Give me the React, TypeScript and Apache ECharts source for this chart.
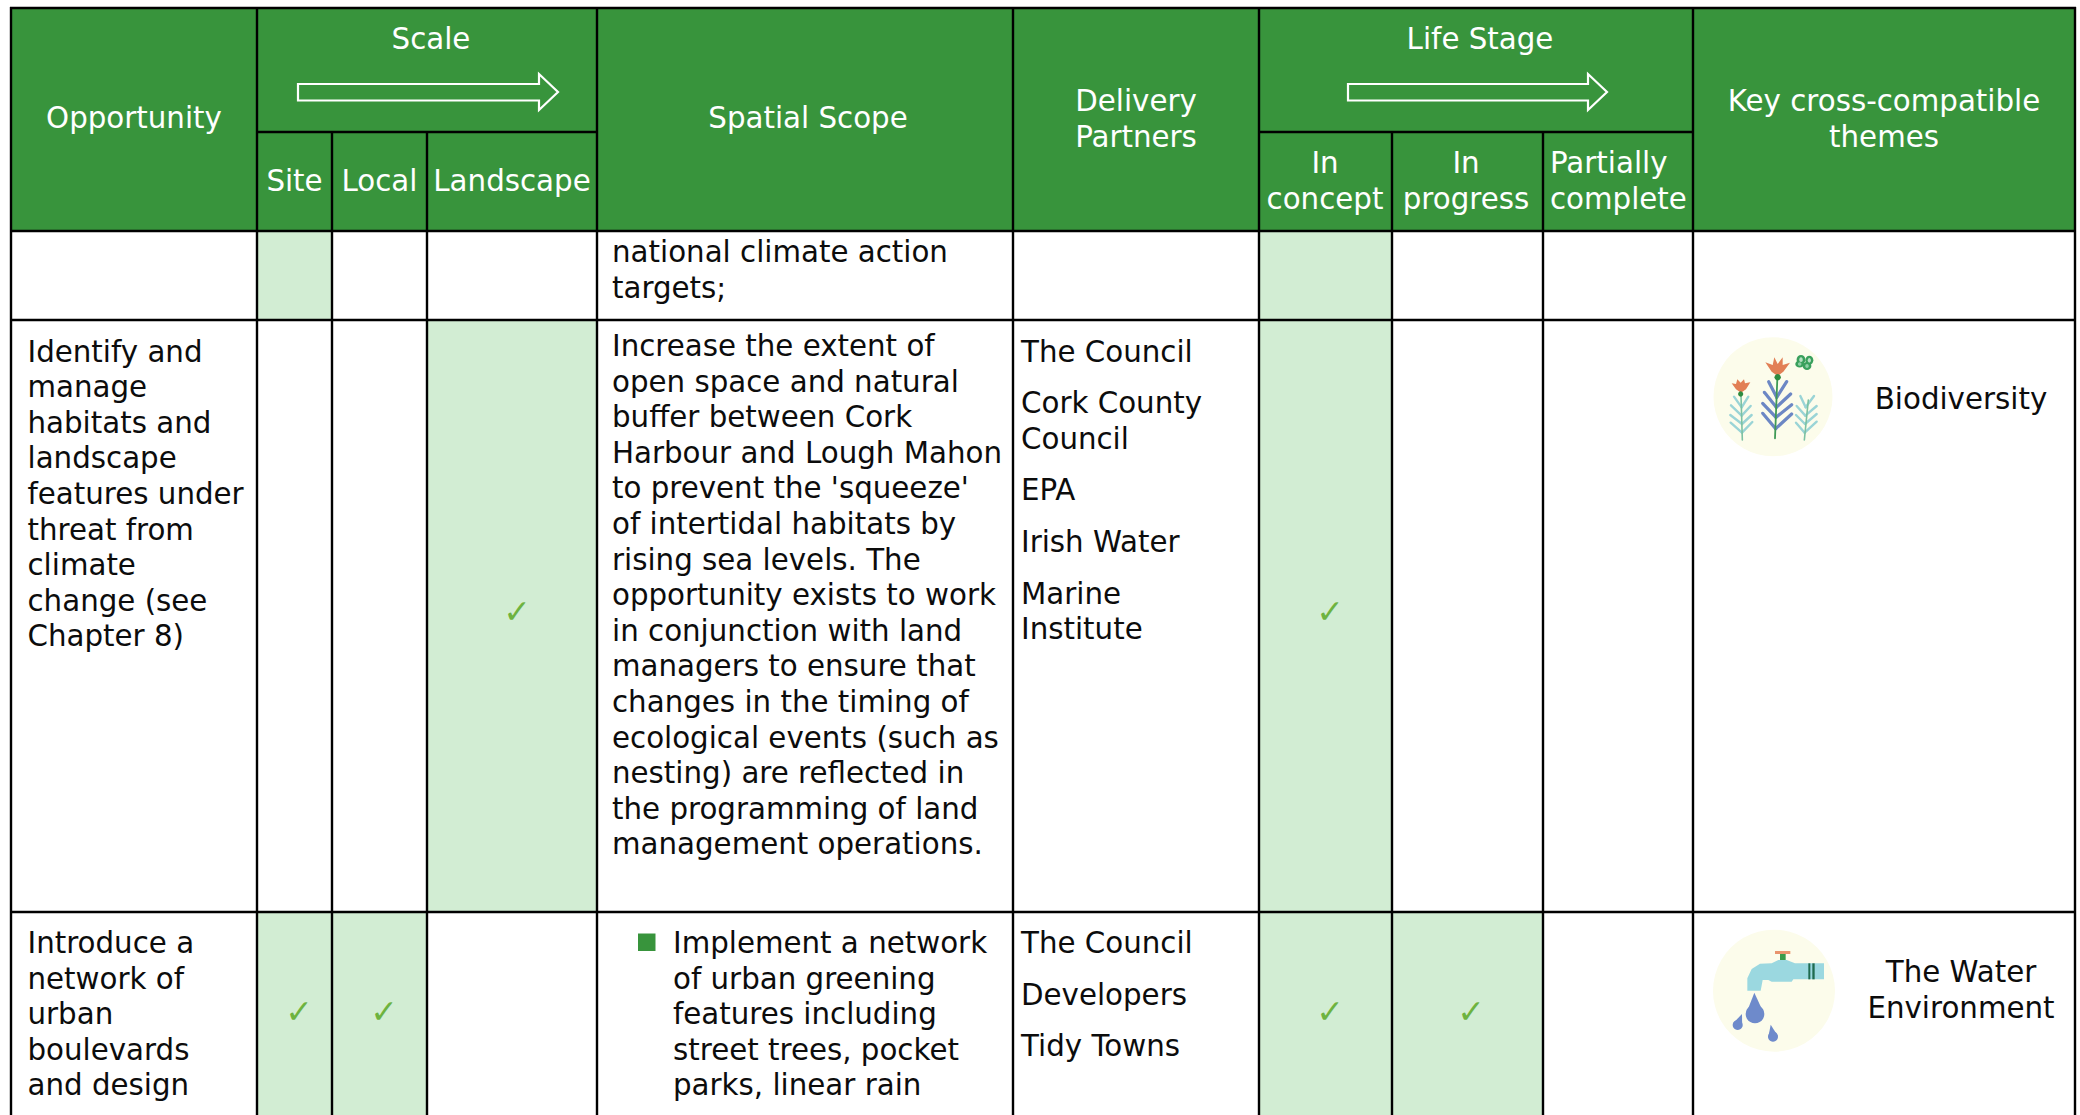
import React, { useEffect, useRef } from "react";
import * as echarts from "echarts";

// ---- table content ----
const headerOpportunity = ["Opportunity"];
const headerScale = "Scale";
const scaleColumns = ["Site", "Local", "Landscape"];
const headerSpatial = ["Spatial Scope"];
const headerPartners = ["Delivery", "Partners"];
const headerLifeStage = "Life Stage";
const stageInConcept = ["In", "concept"];
const stageInProgress = ["In", "progress"];
const stagePartial = ["Partially", "complete"];
const headerThemes = ["Key cross-compatible", "themes"];

const row1Spatial = ["national climate action", "targets;"];
const row2Opportunity = ["Identify and", "manage", "habitats and", "landscape", "features under", "threat from", "climate", "change (see", "Chapter 8)"];
const row2Spatial = ["Increase the extent of", "open space and natural", "buffer between Cork", "Harbour and Lough Mahon", "to prevent the 'squeeze'", "of intertidal habitats by", "rising sea levels. The", "opportunity exists to work", "in conjunction with land", "managers to ensure that", "changes in the timing of", "ecological events (such as", "nesting) are reflected in", "the programming of land", "management operations."];
const row2Partners = [["The Council"], ["Cork County", "Council"], ["EPA"], ["Irish Water"], ["Marine", "Institute"]];
const row2Theme = ["Biodiversity"];
const row3Opportunity = ["Introduce a", "network of", "urban", "boulevards", "and design"];
const row3Spatial = ["Implement a network", "of urban greening", "features including", "street trees, pocket", "parks, linear rain"];
const row3Partners = [["The Council"], ["Developers"], ["Tidy Towns"]];
const row3Theme = ["The Water", "Environment"];

// which of [Site, Local, Landscape, In concept, In progress, Partially complete] applies
const row1Marks = [1, 0, 0, 1, 0, 0];
const row2Marks = [0, 0, 1, 1, 0, 0];
const row3Marks = [1, 1, 0, 1, 1, 0];
const rowsWithTicks = [false, true, true];

// ---- layout and style ----
const GREEN = "#38943c";
const LIGHT = "#d2edd3";
const TICK = "#6db33f";
const FONT = "'DejaVu Sans'";
const FS = 29.3;
const LH = 35.6;
const INK = "#0c0c0c";

const X = [11, 257, 332, 427, 597, 1013, 1259, 1392, 1543, 1693, 2075];
const Y_TOP = 8, Y_SUB = 132, Y_HEAD = 231, Y_R2 = 320, Y_R3 = 912, Y_BOTTOM = 1116;
const markCols: [number, number][] = [[1, 2], [2, 3], [3, 4], [6, 7], [7, 8], [8, 9]];
const rowSpans: [number, number][] = [[Y_HEAD, Y_R2], [Y_R2, Y_R3], [Y_R3, Y_BOTTOM]];
const tickX = [299, 384, 517, 1330, 1471, 1618];
const tickY = [0, 611, 1011];

type El = any;

const txt = (text: string, x: number, y: number, align = "left", fill = INK, fontSize = FS): El => ({
  type: "text",
  z: 10,
  style: { text, x, y, fill, fontFamily: FONT, fontSize, align, verticalAlign: "middle", textAlign: align, textVerticalAlign: "middle" },
});
const block = (lines: string[], x: number, y: number, align = "left", fill = INK, step = LH): El[] =>
  lines.map((l, i) => txt(l, x, y + i * step, align, fill));
const rect = (x: number, y: number, w: number, h: number, fill: string, z = 1): El => ({
  type: "rect", z, shape: { x, y, width: w, height: h }, style: { fill },
});
const line = (x1: number, y1: number, x2: number, y2: number, stroke = "#000", lineWidth = 2.4, z = 5): El => ({
  type: "line", z, shape: { x1, y1, x2, y2 }, style: { stroke, lineWidth, lineCap: "butt" },
});
const poly = (points: number[][], fill: string, z = 7): El => ({
  type: "polygon", z, shape: { points }, style: { fill },
});
const arrow = (x0: number, xb: number, xt: number): El => ({
  type: "polygon", z: 6,
  shape: { points: [[x0, 84], [xb, 84], [xb, 74], [xt, 92], [xb, 110], [xb, 100.5], [x0, 100.5]] },
  style: { fill: "none", stroke: "#fff", lineWidth: 2.2 },
});

// icon helpers: coordinates below are measured on a 3x crop of the icon area
const biodiversityIcon = (): El[] => {
  const p = (x: number, y: number) => [1640 + x / 3, 300 + y / 3];
  const seg = (a: number[], b: number[], c: string, w: number, z = 7) => {
    const [x1, y1] = p(a[0], a[1]);
    const [x2, y2] = p(b[0], b[1]);
    return { ...line(x1, y1, x2, y2, c, w, z), style: { stroke: c, lineWidth: w, lineCap: "round" } };
  };
  const out: El[] = [{ type: "circle", z: 6, shape: { cx: 1773, cy: 396.7, r: 59.5 }, style: { fill: "#fcfceb" } }];
  const teal = "#9ad4d6";
  const blue = "#6c87c4";
  const fronds = (pairs: number[][], c: string, w: number) =>
    pairs.forEach(([x, y, lx, ly, rx, ry]) => {
      out.push(seg([x, y], [lx, ly], c, w));
      out.push(seg([x, y], [rx, ry], c, w));
    });
  fronds([[305, 322, 282, 290, 325, 290], [305, 347, 273, 316, 332, 318], [306, 372, 271, 345, 335, 345], [306, 398, 272, 368, 337, 366]], teal, 2.4);
  fronds([[497, 322, 481, 288, 522, 288], [496, 347, 470, 318, 530, 318], [495, 372, 468, 345, 530, 342], [494, 398, 468, 368, 530, 365]], teal, 2.4);
  fronds([[410, 292, 386, 245, 440, 245], [409, 322, 373, 277, 452, 282], [408, 352, 368, 310, 455, 314], [407, 386, 368, 340, 455, 342]], blue, 3.2);
  out.push(seg([303, 285], [307, 420], "#7cc1a2", 1.6, 8));
  out.push(seg([505, 300], [493, 420], "#7cc1a2", 1.6, 8));
  out.push(seg([412, 235], [405, 415], "#3f9a55", 1.8, 8));
  const orange = "#e27f55";
  out.push(poly([[376, 187], [398, 195], [403, 172], [413, 192], [428, 172], [428, 195], [450, 188], [430, 215], [413, 228], [395, 215]].map(([x, y]) => p(x, y)), orange, 8));
  out.push(poly([[275, 250], [288, 252], [292, 238], [302, 248], [312, 238], [315, 250], [331, 247], [318, 268], [303, 278], [288, 268]].map(([x, y]) => p(x, y)), orange, 8));
  const [gx, gy] = p(413, 232);
  const [hx, hy] = p(302, 282);
  out.push({ type: "circle", z: 9, shape: { cx: gx, cy: gy, r: 3.2 }, style: { fill: "#2e8b3f" } });
  out.push({ type: "circle", z: 9, shape: { cx: hx, cy: hy, r: 2.6 }, style: { fill: "#2e8b3f" } });
  [[483, 179, 4.4, 4.6], [508, 181, 4, 4.6], [479, 192, 4.4, 3.6], [501, 198, 4.4, 4]].forEach(([x, y, rx, ry], i) => {
    const [cx, cy] = p(x, y);
    out.push({ type: "ellipse", z: 8, shape: { cx, cy, rx, ry }, style: { fill: "#39a05c" } });
    out.push({ type: "ellipse", z: 9, shape: { cx, cy, rx: rx * 0.4, ry: ry * 0.5 }, style: { fill: i < 2 ? "#b7e0c4" : "#8fd0a6" } });
  });
  return out;
};

const waterIcon = (): El[] => {
  const p = (x: number, y: number) => [1640 + x / 3, 900 + y / 3];
  const out: El[] = [{ type: "circle", z: 6, shape: { cx: 1774, cy: 990.7, r: 61 }, style: { fill: "#fcfceb" } }];
  const tap = "#9bd8e0";
  out.push(poly([[322, 272], [322, 235], [335, 207], [360, 191], [395, 190], [415, 180], [440, 180], [465, 190], [552, 190], [552, 238], [460, 238], [455, 245], [395, 245], [385, 240], [368, 240], [362, 272]].map(([x, y]) => p(x, y)), tap));
  const box = (x0: number, y0: number, x1: number, y1: number, c: string) => {
    const [a, b] = p(x0, y0);
    const [d, e] = p(x1, y1);
    return rect(a, b, d - a, e - b, c, 8);
  };
  out.push(box(420, 160, 437, 180, "#3a9b4a"));
  out.push(box(405, 153, 451, 162, "#e9946d"));
  out.push(box(505, 190, 511, 238, "#1f6b4f"));
  out.push(box(517, 190, 524, 238, "#1f6b4f"));
  const drop = (tx: number, ty: number, cx: number, cy: number, r: number) => {
    const blue = "#6e8acb";
    const [ax, ay] = p(tx, ty);
    const [bx, by] = p(cx, cy);
    const rr = r / 3;
    const ang = Math.atan2(by - ay, bx - ax);
    const n = [Math.cos(ang + Math.PI / 2) * rr * 0.97, Math.sin(ang + Math.PI / 2) * rr * 0.97];
    out.push(poly([[ax, ay], [bx + n[0], by + n[1]], [bx - n[0], by - n[1]]], blue));
    out.push({ type: "circle", z: 7, shape: { cx: bx, cy: by, r: rr }, style: { fill: blue } });
  };
  drop(343, 278, 345, 342, 28);
  drop(306, 342, 293, 375, 15);
  drop(392, 374, 399, 410, 15);
  return out;
};

const buildGraphics = (): El[] => {
  const els: El[] = [];
  // header background
  els.push(rect(X[0], Y_TOP, X[10] - X[0], Y_HEAD - Y_TOP, GREEN));
  // shaded cells and ticks
  [row1Marks, row2Marks, row3Marks].forEach((marks, r) => {
    marks.forEach((m, c) => {
      if (!m) return;
      const [a, b] = markCols[c];
      const [t, u] = rowSpans[r];
      els.push(rect(X[a], t, X[b] - X[a], u - t, LIGHT, 2));
      if (rowsWithTicks[r]) {
        els.push({ ...txt("✓", tickX[c], tickY[r], "center", TICK, 33), z: 8 });
      }
    });
  });
  // rules
  [0, 1, 4, 5, 6, 9, 10].forEach((i) => els.push(line(X[i], Y_TOP - 1, X[i], Y_BOTTOM)));
  [2, 3, 7, 8].forEach((i) => els.push(line(X[i], Y_SUB, X[i], Y_BOTTOM)));
  [Y_TOP, Y_HEAD, Y_R2, Y_R3].forEach((y) => els.push(line(X[0] - 1, y, X[10] + 1, y)));
  els.push(line(X[1], Y_SUB, X[4], Y_SUB));
  els.push(line(X[6], Y_SUB, X[9], Y_SUB));
  // header texts
  const W = "#ffffff";
  els.push(...block(headerOpportunity, 134, 118, "center", W));
  els.push(txt(headerScale, 431, 38.5, "center", W));
  els.push(arrow(298, 539, 558));
  els.push(txt(scaleColumns[0], 294.5, 180.5, "center", W));
  els.push(txt(scaleColumns[1], 379.5, 180.5, "center", W));
  els.push(txt(scaleColumns[2], 512, 180.5, "center", W));
  els.push(...block(headerSpatial, 808, 118, "center", W));
  els.push(...block(headerPartners, 1136, 101, "center", W));
  els.push(txt(headerLifeStage, 1480, 38.5, "center", W));
  els.push(arrow(1348, 1588, 1607));
  els.push(...block(stageInConcept, 1325, 163, "center", W));
  els.push(...block(stageInProgress, 1466, 163, "center", W));
  els.push(...block(stagePartial, 1550, 163, "left", W));
  els.push(...block(headerThemes, 1884, 101, "center", W));
  // row 1
  els.push(...block(row1Spatial, 612, 252));
  // row 2
  els.push(...block(row2Opportunity, 27.5, 351.5));
  els.push(...block(row2Spatial, 612, 346));
  const partners = (groups: string[][], x: number, y0: number) => {
    let y = y0;
    groups.forEach((g) => {
      els.push(...block(g, x, y));
      y += g.length * LH + 16;
    });
  };
  partners(row2Partners, 1021, 351.5);
  els.push(...block(row2Theme, 1961, 399, "center"));
  els.push(...biodiversityIcon());
  // row 3
  els.push(...block(row3Opportunity, 27.5, 943));
  els.push(rect(638, 933.5, 17.5, 17.5, GREEN, 7));
  els.push(...block(row3Spatial, 673, 943));
  partners(row3Partners, 1021, 943);
  els.push(...block(row3Theme, 1961, 972, "center"));
  els.push(...waterIcon());
  return els;
};

export default function App() {
  const ref = useRef<HTMLDivElement>(null);
  useEffect(() => {
    document.body.style.margin = "0";
    document.body.style.overflow = "hidden";
    const chart = echarts.init(ref.current!, undefined, { renderer: "svg", width: 2080, height: 1115 });
    chart.setOption({ animation: false, backgroundColor: "#ffffff", graphic: { elements: buildGraphics() } });
    return () => chart.dispose();
  }, []);
  return <div ref={ref} style={{ position: "absolute", left: 0, top: 0, width: 2080, height: 1115 }} />;
}
